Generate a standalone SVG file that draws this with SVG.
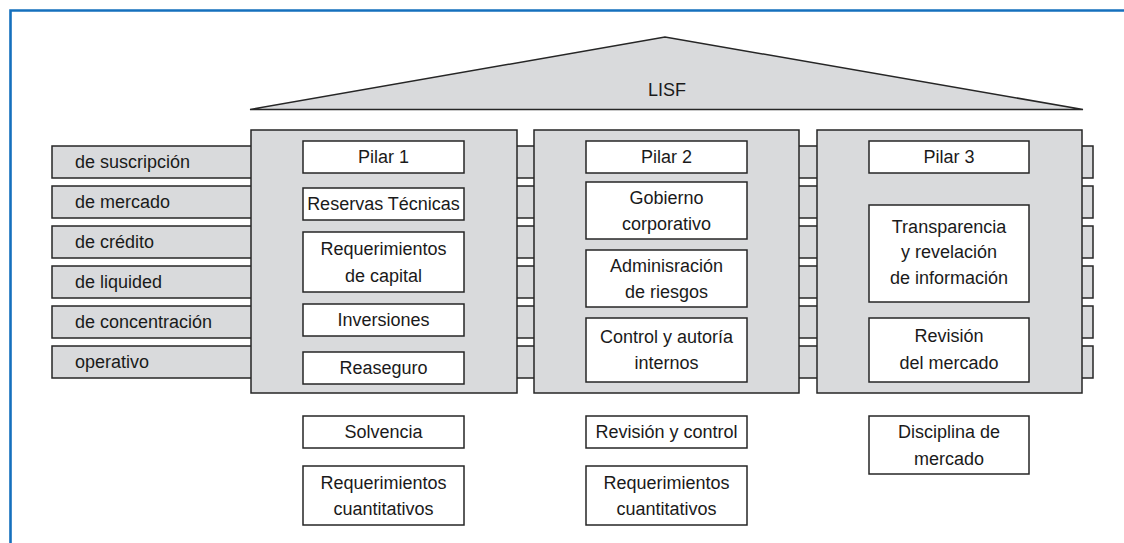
<svg xmlns="http://www.w3.org/2000/svg" width="1124" height="543" viewBox="0 0 1124 543">
<style>
  .frame{fill:none;stroke:#1570bd;stroke-width:2.6}
  .gray{fill:#d9dadc;stroke:#262626;stroke-width:1.5}
  .box{fill:#ffffff;stroke:#262626;stroke-width:1.5}
  text{font-family:"Liberation Sans",Arial,sans-serif;font-size:18px;fill:#1a1a1a}
  .c{text-anchor:middle}
</style>
<rect width="1124" height="543" fill="#ffffff"/>
<path class="frame" d="M10.5,543 V10.5 H1124"/>

<g id="roof">
  <polygon class="gray" points="250,109.5 665,37 1083,109.5"/>
  <text class="c" x="667" y="96">LISF</text>
</g>

<g id="risks">
  <rect class="gray" x="52" y="146" width="1041" height="32"/>
  <rect class="gray" x="52" y="186" width="1041" height="32"/>
  <rect class="gray" x="52" y="226" width="1041" height="32"/>
  <rect class="gray" x="52" y="266" width="1041" height="32"/>
  <rect class="gray" x="52" y="306" width="1041" height="32"/>
  <rect class="gray" x="52" y="346" width="1041" height="32"/>
  <text x="75" y="168">de suscripción</text>
  <text x="75" y="208">de mercado</text>
  <text x="75" y="248">de crédito</text>
  <text x="75" y="288">de liquided</text>
  <text x="75" y="328">de concentración</text>
  <text x="75" y="368">operativo</text>
</g>

<g id="pilar1">
  <rect class="gray" x="251" y="130" width="266" height="263"/>
  <rect class="box" x="303" y="141" width="161" height="32"/>
  <text class="c" x="383.5" y="163">Pilar 1</text>
  <rect class="box" x="303" y="188" width="161" height="32"/>
  <text class="c" x="383.5" y="210">Reservas Técnicas</text>
  <rect class="box" x="303" y="232" width="161" height="60"/>
  <text class="c" x="383.5" y="255">Requerimientos</text>
  <text class="c" x="383.5" y="281.5">de capital</text>
  <rect class="box" x="303" y="304" width="161" height="32"/>
  <text class="c" x="383.5" y="326">Inversiones</text>
  <rect class="box" x="303" y="352" width="161" height="32"/>
  <text class="c" x="383.5" y="374">Reaseguro</text>
</g>

<g id="pilar2">
  <rect class="gray" x="534" y="130" width="265" height="263"/>
  <rect class="box" x="586" y="141" width="161" height="32"/>
  <text class="c" x="666.5" y="163">Pilar 2</text>
  <rect class="box" x="586" y="182" width="161" height="57"/>
  <text class="c" x="666.5" y="204">Gobierno</text>
  <text class="c" x="666.5" y="230">corporativo</text>
  <rect class="box" x="586" y="250" width="161" height="57"/>
  <text class="c" x="666.5" y="272">Adminisración</text>
  <text class="c" x="666.5" y="298">de riesgos</text>
  <rect class="box" x="586" y="318" width="161" height="64"/>
  <text class="c" x="666.5" y="343">Control y autoría</text>
  <text class="c" x="666.5" y="369">internos</text>
</g>

<g id="pilar3">
  <rect class="gray" x="817" y="130" width="265" height="263"/>
  <rect class="box" x="869" y="141" width="160" height="32"/>
  <text class="c" x="949" y="163">Pilar 3</text>
  <rect class="box" x="869" y="205" width="160" height="97"/>
  <text class="c" x="949" y="232.5">Transparencia</text>
  <text class="c" x="949" y="258">y revelación</text>
  <text class="c" x="949" y="284">de información</text>
  <rect class="box" x="869" y="318" width="160" height="64"/>
  <text class="c" x="949" y="342">Revisión</text>
  <text class="c" x="949" y="368.5">del mercado</text>
</g>

<g id="base1">
  <rect class="box" x="303" y="416" width="161" height="32"/>
  <text class="c" x="383.5" y="438">Solvencia</text>
  <rect class="box" x="303" y="466" width="161" height="59"/>
  <text class="c" x="383.5" y="488.5">Requerimientos</text>
  <text class="c" x="383.5" y="514.5">cuantitativos</text>
</g>

<g id="base2">
  <rect class="box" x="586" y="416" width="161" height="32"/>
  <text class="c" x="666.5" y="438">Revisión y control</text>
  <rect class="box" x="586" y="466" width="161" height="59"/>
  <text class="c" x="666.5" y="488.5">Requerimientos</text>
  <text class="c" x="666.5" y="514.5">cuantitativos</text>
</g>

<g id="base3">
  <rect class="box" x="869" y="416" width="160" height="58"/>
  <text class="c" x="949" y="438">Disciplina de</text>
  <text class="c" x="949" y="464.5">mercado</text>
</g>

<g id="connectors"></g>
</svg>
